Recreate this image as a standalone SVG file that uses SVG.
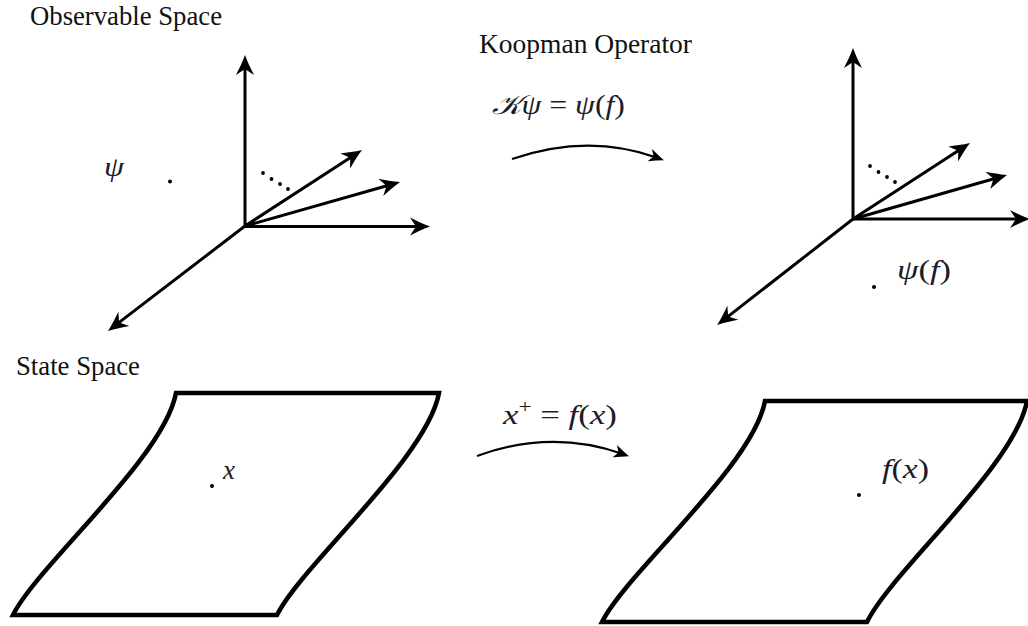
<svg xmlns="http://www.w3.org/2000/svg" width="1028" height="626" viewBox="0 0 1028 626">
  <style>
    .title { font-family: "Liberation Serif", "Times New Roman", serif; font-size: 27px; fill: #111; }
    .math { font-family: "Liberation Serif", "DejaVu Serif", serif; font-style: italic; font-size: 27px; fill: #1c1c28; }
    .up { font-style: normal; }
    .axis { stroke: #000; stroke-width: 3; fill: none; marker-end: url(#ah); }
    .arc { stroke: #000; stroke-width: 2.2; fill: none; marker-end: url(#ahs); }
    .sheet { stroke: #000; stroke-width: 4.5; fill: #fff; stroke-linejoin: miter; }
    .dot { fill: #000; }
  </style>
  <defs>
    <marker id="ah" markerUnits="userSpaceOnUse" markerWidth="24" markerHeight="22" viewBox="0 -11 24 22" refX="10" refY="0" orient="auto" overflow="visible">
      <path d="M20,0 C13,-2.5 6,-6 0,-9 L6,0 L0,9 C6,6 13,2.5 20,0 Z" fill="#000"/>
    </marker>
    <marker id="ahs" markerUnits="userSpaceOnUse" markerWidth="18" markerHeight="16" viewBox="0 -8 18 16" refX="7" refY="0" orient="auto" overflow="visible">
      <path d="M15,0 C10,-2 5,-4 0,-6.5 L4,0 L0,6.5 C5,4 10,2 15,0 Z" fill="#000"/>
    </marker>
  </defs>

  <rect width="1028" height="626" fill="#fff"/>

  <!-- Titles -->
  <text class="title" x="30" y="25" textLength="192" lengthAdjust="spacingAndGlyphs">Observable Space</text>
  <text class="title" x="479" y="53" textLength="213" lengthAdjust="spacingAndGlyphs">Koopman Operator</text>
  <text class="title" x="16" y="375" textLength="124" lengthAdjust="spacingAndGlyphs">State Space</text>

  <!-- Observable space (left) -->
  <g id="observable-left">
    <line class="axis" x1="245" y1="226" x2="245" y2="65"/>
    <line class="axis" x1="245" y1="226.5" x2="420" y2="226.5"/>
    <line class="axis" x1="245" y1="226" x2="353.6" y2="155.5"/>
    <line class="axis" x1="245" y1="226" x2="390.4" y2="184.7"/>
    <line class="axis" x1="245" y1="226" x2="115.9" y2="324.9"/>
    <circle class="dot" cx="263" cy="173" r="1.9"/>
    <circle class="dot" cx="271.5" cy="179" r="1.9"/>
    <circle class="dot" cx="280" cy="184" r="1.9"/>
    <circle class="dot" cx="288" cy="189" r="1.9"/>
    <circle class="dot" cx="170" cy="181.5" r="2"/>
    <text class="math" x="104" y="176" textLength="20" lengthAdjust="spacingAndGlyphs">ψ</text>
  </g>

  <!-- Observable space (right) -->
  <g id="observable-right">
    <line class="axis" x1="853" y1="219" x2="853" y2="58"/>
    <line class="axis" x1="853" y1="219" x2="1020" y2="219"/>
    <line class="axis" x1="853" y1="219" x2="961.6" y2="148.5"/>
    <line class="axis" x1="853" y1="219" x2="997.4" y2="177.7"/>
    <line class="axis" x1="853" y1="219" x2="725" y2="318.9"/>
    <circle class="dot" cx="870" cy="166" r="1.9"/>
    <circle class="dot" cx="878.5" cy="172" r="1.9"/>
    <circle class="dot" cx="887" cy="177" r="1.9"/>
    <circle class="dot" cx="895" cy="182" r="1.9"/>
    <circle class="dot" cx="874" cy="287" r="2"/>
    <text class="math" x="897" y="279" textLength="54" lengthAdjust="spacingAndGlyphs">ψ<tspan class="up">(</tspan>f<tspan class="up">)</tspan></text>
  </g>

  <!-- State space (left) -->
  <g id="state-left">
    <path class="sheet" d="M13,615 L277,615 C302,565 427,458 439,393 L176,393 C164,458 38,565 13,615 Z"/>
    <circle class="dot" cx="212" cy="486" r="2"/>
    <text class="math" x="223" y="479" font-size="21" textLength="12" lengthAdjust="spacingAndGlyphs">x</text>
  </g>

  <!-- State space (right) -->
  <g id="state-right">
    <path class="sheet" d="M602,622 L867,622 C891,572 1015,466 1027,401 L765,401 C753,466 627,572 602,622 Z"/>
    <circle class="dot" cx="859" cy="495" r="2"/>
    <text class="math" x="882" y="478" textLength="47" lengthAdjust="spacingAndGlyphs">f<tspan class="up">(</tspan>x<tspan class="up">)</tspan></text>
  </g>

  <!-- Connectors -->
  <g id="connectors">
    <path id="koopman-arrow" class="arc" d="M512,159 Q588,133 656.4,157.5"/>
    <path id="state-arrow" class="arc" d="M477,456 Q551,429 621.4,453.5"/>
  </g>

  <!-- Connector labels -->
  <text class="math" x="492" y="114" textLength="133" lengthAdjust="spacingAndGlyphs">𝒦ψ<tspan class="up"> = </tspan>ψ<tspan class="up">(</tspan>f<tspan class="up">)</tspan></text>
  <text class="math" x="503" y="424" textLength="114" lengthAdjust="spacingAndGlyphs">x<tspan class="up" font-size="18" dy="-11">+</tspan><tspan class="up" dy="11"> = </tspan>f<tspan class="up">(</tspan>x<tspan class="up">)</tspan></text>
</svg>
